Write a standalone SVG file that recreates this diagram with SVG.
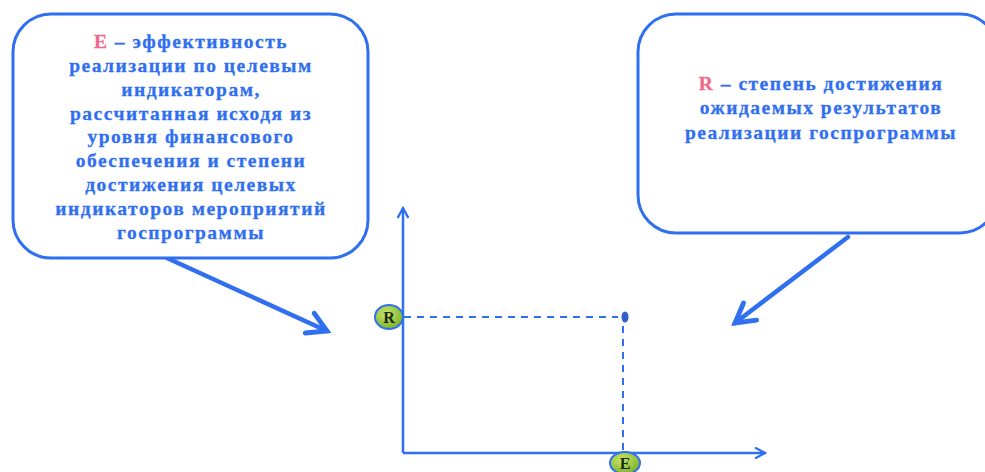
<svg xmlns="http://www.w3.org/2000/svg" width="985" height="472" viewBox="0 0 985 472">
<defs>
<style>
.box{fill:#fff;stroke:#2f6ff0;stroke-width:3}
.t{font-family:"Liberation Serif","Times New Roman",serif;font-weight:bold;font-size:19.5px;fill:#2f6ff0;text-anchor:middle;letter-spacing:1.5px;stroke:#2f6ff0;stroke-width:0.3}
.pk{fill:#f06a8a;stroke:#f06a8a}
.ax{stroke:#2f6ff0;stroke-width:2.5;fill:none}
.dash{stroke:#2f6ff0;stroke-width:2;fill:none;stroke-dasharray:7 6}
.ca{stroke:#2f6ff0;stroke-width:4.5;fill:none;stroke-linecap:round}
.lbl{font-family:"Liberation Serif","Times New Roman",serif;font-weight:bold;font-size:16px;fill:#1a2a10;text-anchor:middle}
</style>
<marker id="ah" viewBox="0 0 10 10" refX="8.5" refY="5" markerWidth="14" markerHeight="14" markerUnits="userSpaceOnUse" orient="auto">
<path d="M2,1.5 L8.5,5 L2,8.5" fill="none" stroke="#2f6ff0" stroke-width="1.6" stroke-linecap="round"/>
</marker>
<marker id="ah2" viewBox="0 0 10 10" refX="8" refY="5" markerWidth="6" markerHeight="6" orient="auto">
<path d="M1,1 L8,5 L1,9" fill="none" stroke="#2f6ff0" stroke-width="1.8" stroke-linecap="round"/>
</marker>
<radialGradient id="gg" cx="0.4" cy="0.35" r="0.7">
<stop offset="0" stop-color="#c8e66a"/>
<stop offset="1" stop-color="#7ab02a"/>
</radialGradient>
</defs>
<g id="connectors">
<line class="ax" x1="403" y1="453" x2="403" y2="208" marker-end="url(#ah)"/>
<line class="ax" x1="403" y1="453" x2="765" y2="453" marker-end="url(#ah)"/>
<line class="dash" x1="404" y1="317" x2="618" y2="317"/>
<line class="dash" x1="623" y1="326" x2="623" y2="452"/>
<line class="ca" x1="167" y1="258" x2="327" y2="331" marker-end="url(#ah2)"/>
<line class="ca" x1="848" y1="237" x2="735" y2="323" marker-end="url(#ah2)"/>
</g>
<g id="box-e">
<rect class="box" x="13" y="14" width="355" height="244" rx="38"/>
<text class="t" x="191" y="48"><tspan class="pk">Е</tspan> – эффективность</text>
<text class="t" x="191" y="72">реализации по целевым</text>
<text class="t" x="191" y="96">индикаторам,</text>
<text class="t" x="191" y="120">рассчитанная исходя из</text>
<text class="t" x="191" y="143">уровня финансового</text>
<text class="t" x="191" y="167">обеспечения и степени</text>
<text class="t" x="191" y="191">достижения целевых</text>
<text class="t" x="191" y="215">индикаторов мероприятий</text>
<text class="t" x="191" y="239">госпрограммы</text>
</g>
<g id="box-r">
<rect class="box" x="638" y="14" width="360" height="219" rx="38"/>
<text class="t" x="821" y="90"><tspan class="pk">R</tspan> – степень достижения</text>
<text class="t" x="821" y="114">ожидаемых результатов</text>
<text class="t" x="821" y="139">реализации госпрограммы</text>
</g>
<g id="point">
<ellipse cx="625" cy="317" rx="3.5" ry="5.5" fill="#2f5fd0"/>
</g>
<g id="label-r">
<ellipse cx="389" cy="317" rx="14" ry="12" fill="url(#gg)" stroke="#2f6ff0" stroke-width="2"/>
<text class="lbl" x="389" y="323">R</text>
</g>
<g id="label-e">
<ellipse cx="625" cy="463" rx="15" ry="11" fill="url(#gg)" stroke="#2f6ff0" stroke-width="2"/>
<text class="lbl" x="625" y="469" font-size="15">E</text>
</g>
</svg>
